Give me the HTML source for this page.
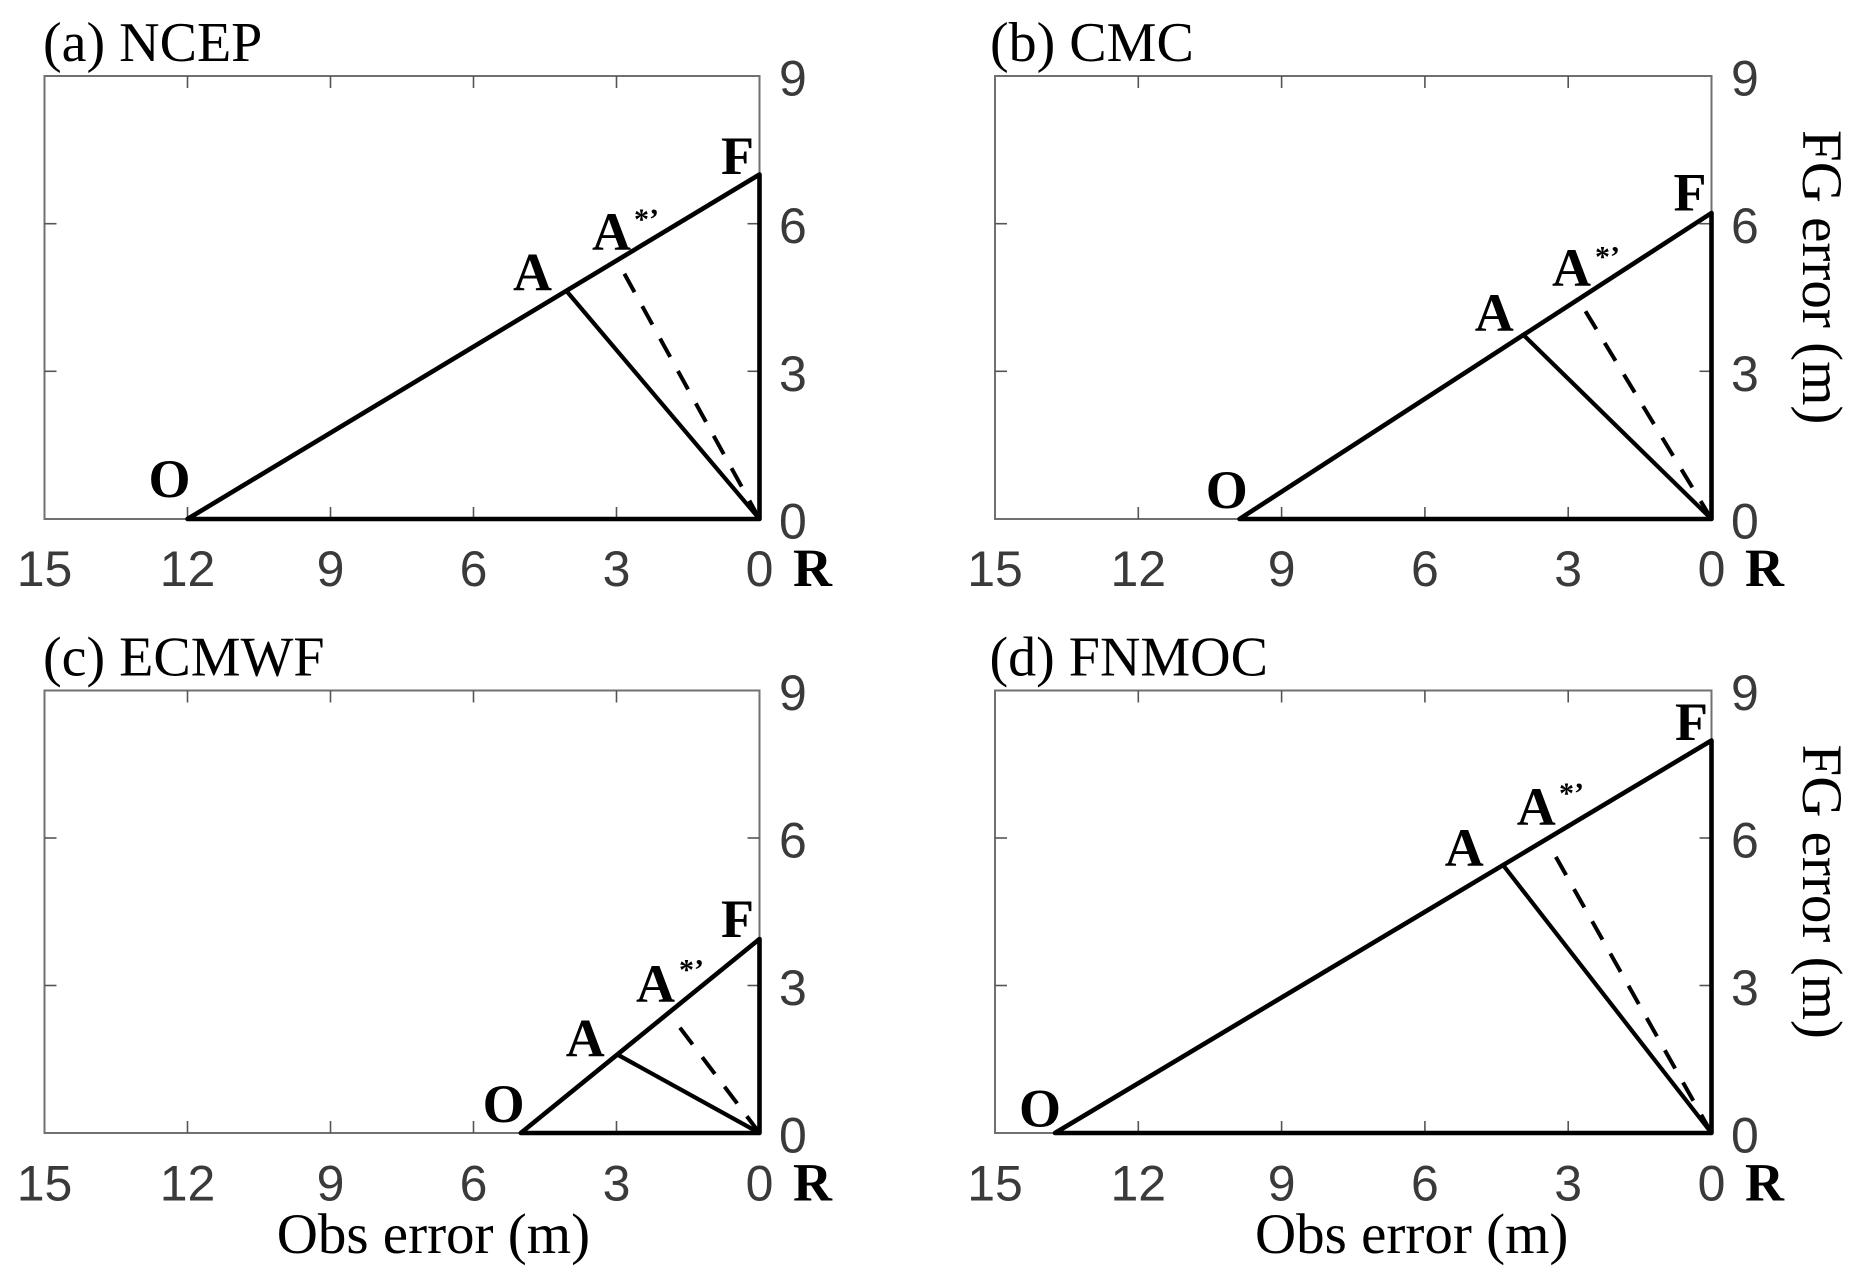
<!DOCTYPE html>
<html>
<head>
<meta charset="utf-8">
<style>
  html,body{margin:0;padding:0;background:#fff;}
  svg{display:block;}
  .tl{font-family:"Liberation Sans",Arial,sans-serif;font-size:50px;fill:#3a3a3a;}
  .ttl{font-family:"Liberation Serif","Times New Roman",serif;font-size:56px;fill:#000;}
  .ax{font-family:"Liberation Serif","Times New Roman",serif;font-size:57px;fill:#000;}
  .pt{font-family:"Liberation Serif","Times New Roman",serif;font-size:54px;font-weight:bold;fill:#000;}
  .sup{font-family:"Liberation Serif","Times New Roman",serif;font-size:30px;font-weight:bold;fill:#000;}
  .box{fill:none;stroke:#707070;stroke-width:2;}
  .tk{stroke:#555;stroke-width:1.6;}
  .tri{fill:none;stroke:#000;stroke-width:4.6;stroke-linejoin:round;}
  .sol{stroke:#000;stroke-width:4.2;}
  .dsh{stroke:#000;stroke-width:4;stroke-dasharray:21 16;}
</style>
</head>
<body>
<svg width="1866" height="1274" viewBox="0 0 1866 1274" xmlns="http://www.w3.org/2000/svg">
<rect width="1866" height="1274" fill="#fff"/>

<!-- ================= Panel (a) ================= -->
<rect class="box" x="44.5" y="76" width="715" height="443"/>
<g class="tk">
  <line x1="187.5" y1="519" x2="187.5" y2="507"/><line x1="330.5" y1="519" x2="330.5" y2="507"/>
  <line x1="473.5" y1="519" x2="473.5" y2="507"/><line x1="616.5" y1="519" x2="616.5" y2="507"/>
  <line x1="187.5" y1="76" x2="187.5" y2="88"/><line x1="330.5" y1="76" x2="330.5" y2="88"/>
  <line x1="473.5" y1="76" x2="473.5" y2="88"/><line x1="616.5" y1="76" x2="616.5" y2="88"/>
  <line x1="44.5" y1="223.7" x2="56.5" y2="223.7"/><line x1="44.5" y1="371.3" x2="56.5" y2="371.3"/>
  <line x1="759.5" y1="223.7" x2="747.5" y2="223.7"/><line x1="759.5" y1="371.3" x2="747.5" y2="371.3"/>
</g>
<g class="tl" text-anchor="middle">
  <text x="44.5" y="586">15</text><text x="187.5" y="586">12</text><text x="330.5" y="586">9</text>
  <text x="473.5" y="586">6</text><text x="616.5" y="586">3</text><text x="759.5" y="586">0</text>
</g>
<g class="tl">
  <text x="779" y="95.5">9</text><text x="779" y="243.2">6</text>
  <text x="779" y="390.8">3</text><text x="779" y="538.5">0</text>
</g>
<text class="ttl" x="43" y="61">(a) NCEP</text>
<polygon class="tri" points="187.5,519 759.5,174.5 759.5,519"/>
<line class="sol" x1="566.5" y1="291" x2="759.5" y2="519"/>
<line class="dsh" x1="759.5" y1="519" x2="619" y2="264"/>
<text class="pt" x="721" y="174">F</text>
<text class="pt" x="592" y="250">A</text><text class="sup" x="634" y="229">*’</text>
<text class="pt" x="513" y="290.5">A</text>
<text class="pt" x="148.5" y="497">O</text>
<text class="pt" x="793" y="586">R</text>

<!-- ================= Panel (b) ================= -->
<rect class="box" x="995" y="76" width="716.5" height="443"/>
<g class="tk">
  <line x1="1138.3" y1="519" x2="1138.3" y2="507"/><line x1="1281.6" y1="519" x2="1281.6" y2="507"/>
  <line x1="1424.9" y1="519" x2="1424.9" y2="507"/><line x1="1568.2" y1="519" x2="1568.2" y2="507"/>
  <line x1="1138.3" y1="76" x2="1138.3" y2="88"/><line x1="1281.6" y1="76" x2="1281.6" y2="88"/>
  <line x1="1424.9" y1="76" x2="1424.9" y2="88"/><line x1="1568.2" y1="76" x2="1568.2" y2="88"/>
  <line x1="995" y1="223.7" x2="1007" y2="223.7"/><line x1="995" y1="371.3" x2="1007" y2="371.3"/>
  <line x1="1711.5" y1="223.7" x2="1699.5" y2="223.7"/><line x1="1711.5" y1="371.3" x2="1699.5" y2="371.3"/>
</g>
<g class="tl" text-anchor="middle">
  <text x="995" y="586">15</text><text x="1138.3" y="586">12</text><text x="1281.6" y="586">9</text>
  <text x="1424.9" y="586">6</text><text x="1568.2" y="586">3</text><text x="1711.5" y="586">0</text>
</g>
<g class="tl">
  <text x="1731" y="95.5">9</text><text x="1731" y="243.2">6</text>
  <text x="1731" y="390.8">3</text><text x="1731" y="538.5">0</text>
</g>
<text class="ttl" x="990" y="61">(b) CMC</text>
<polygon class="tri" points="1239.5,519 1711.5,213 1711.5,519"/>
<line class="sol" x1="1523" y1="334.5" x2="1711.5" y2="519"/>
<line class="dsh" x1="1711.5" y1="519" x2="1580.5" y2="303"/>
<text class="pt" x="1673.5" y="210.5">F</text>
<text class="pt" x="1552" y="286">A</text><text class="sup" x="1595" y="266.5">*’</text>
<text class="pt" x="1474.7" y="331">A</text>
<text class="pt" x="1205.7" y="508">O</text>
<text class="pt" x="1745" y="586">R</text>
<text class="ax" transform="translate(1803,130) rotate(90)">FG error (m)</text>

<!-- ================= Panel (c) ================= -->
<rect class="box" x="44.5" y="690.5" width="715" height="442.5"/>
<g class="tk">
  <line x1="187.5" y1="1133" x2="187.5" y2="1121"/><line x1="330.5" y1="1133" x2="330.5" y2="1121"/>
  <line x1="473.5" y1="1133" x2="473.5" y2="1121"/><line x1="616.5" y1="1133" x2="616.5" y2="1121"/>
  <line x1="187.5" y1="690.5" x2="187.5" y2="702.5"/><line x1="330.5" y1="690.5" x2="330.5" y2="702.5"/>
  <line x1="473.5" y1="690.5" x2="473.5" y2="702.5"/><line x1="616.5" y1="690.5" x2="616.5" y2="702.5"/>
  <line x1="44.5" y1="838" x2="56.5" y2="838"/><line x1="44.5" y1="985.5" x2="56.5" y2="985.5"/>
  <line x1="759.5" y1="838" x2="747.5" y2="838"/><line x1="759.5" y1="985.5" x2="747.5" y2="985.5"/>
</g>
<g class="tl" text-anchor="middle">
  <text x="44.5" y="1200.5">15</text><text x="187.5" y="1200.5">12</text><text x="330.5" y="1200.5">9</text>
  <text x="473.5" y="1200.5">6</text><text x="616.5" y="1200.5">3</text><text x="759.5" y="1200.5">0</text>
</g>
<g class="tl">
  <text x="779" y="710">9</text><text x="779" y="857.5">6</text>
  <text x="779" y="1005">3</text><text x="779" y="1152.5">0</text>
</g>
<text class="ttl" x="43" y="675.5">(c) ECMWF</text>
<polygon class="tri" points="520.8,1133 759.5,939 759.5,1133"/>
<line class="sol" x1="617.3" y1="1054.5" x2="759.5" y2="1133"/>
<line class="dsh" x1="759.5" y1="1133" x2="677.9" y2="1025"/>
<text class="pt" x="721" y="937">F</text>
<text class="pt" x="636" y="1002">A</text><text class="sup" x="679" y="979.5">*’</text>
<text class="pt" x="565.7" y="1056.5">A</text>
<text class="pt" x="482.6" y="1122">O</text>
<text class="pt" x="793" y="1200.5">R</text>
<text class="ax" x="276.7" y="1253">Obs error (m)</text>

<!-- ================= Panel (d) ================= -->
<rect class="box" x="995" y="690.5" width="716.5" height="442.5"/>
<g class="tk">
  <line x1="1138.3" y1="1133" x2="1138.3" y2="1121"/><line x1="1281.6" y1="1133" x2="1281.6" y2="1121"/>
  <line x1="1424.9" y1="1133" x2="1424.9" y2="1121"/><line x1="1568.2" y1="1133" x2="1568.2" y2="1121"/>
  <line x1="1138.3" y1="690.5" x2="1138.3" y2="702.5"/><line x1="1281.6" y1="690.5" x2="1281.6" y2="702.5"/>
  <line x1="1424.9" y1="690.5" x2="1424.9" y2="702.5"/><line x1="1568.2" y1="690.5" x2="1568.2" y2="702.5"/>
  <line x1="995" y1="838" x2="1007" y2="838"/><line x1="995" y1="985.5" x2="1007" y2="985.5"/>
  <line x1="1711.5" y1="838" x2="1699.5" y2="838"/><line x1="1711.5" y1="985.5" x2="1699.5" y2="985.5"/>
</g>
<g class="tl" text-anchor="middle">
  <text x="995" y="1200.5">15</text><text x="1138.3" y="1200.5">12</text><text x="1281.6" y="1200.5">9</text>
  <text x="1424.9" y="1200.5">6</text><text x="1568.2" y="1200.5">3</text><text x="1711.5" y="1200.5">0</text>
</g>
<g class="tl">
  <text x="1731" y="710">9</text><text x="1731" y="857.5">6</text>
  <text x="1731" y="1005">3</text><text x="1731" y="1152.5">0</text>
</g>
<text class="ttl" x="989.5" y="675.5">(d) FNMOC</text>
<polygon class="tri" points="1055,1133 1711.5,740.5 1711.5,1133"/>
<line class="sol" x1="1503" y1="865" x2="1711.5" y2="1133"/>
<line class="dsh" x1="1711.5" y1="1133" x2="1550" y2="846.5"/>
<text class="pt" x="1675" y="740">F</text>
<text class="pt" x="1516.7" y="825">A</text><text class="sup" x="1559" y="803">*’</text>
<text class="pt" x="1444.7" y="866">A</text>
<text class="pt" x="1019" y="1126.5">O</text>
<text class="pt" x="1745" y="1200.5">R</text>
<text class="ax" x="1255" y="1253">Obs error (m)</text>
<text class="ax" transform="translate(1803,744.5) rotate(90)">FG error (m)</text>
</svg>
</body>
</html>
